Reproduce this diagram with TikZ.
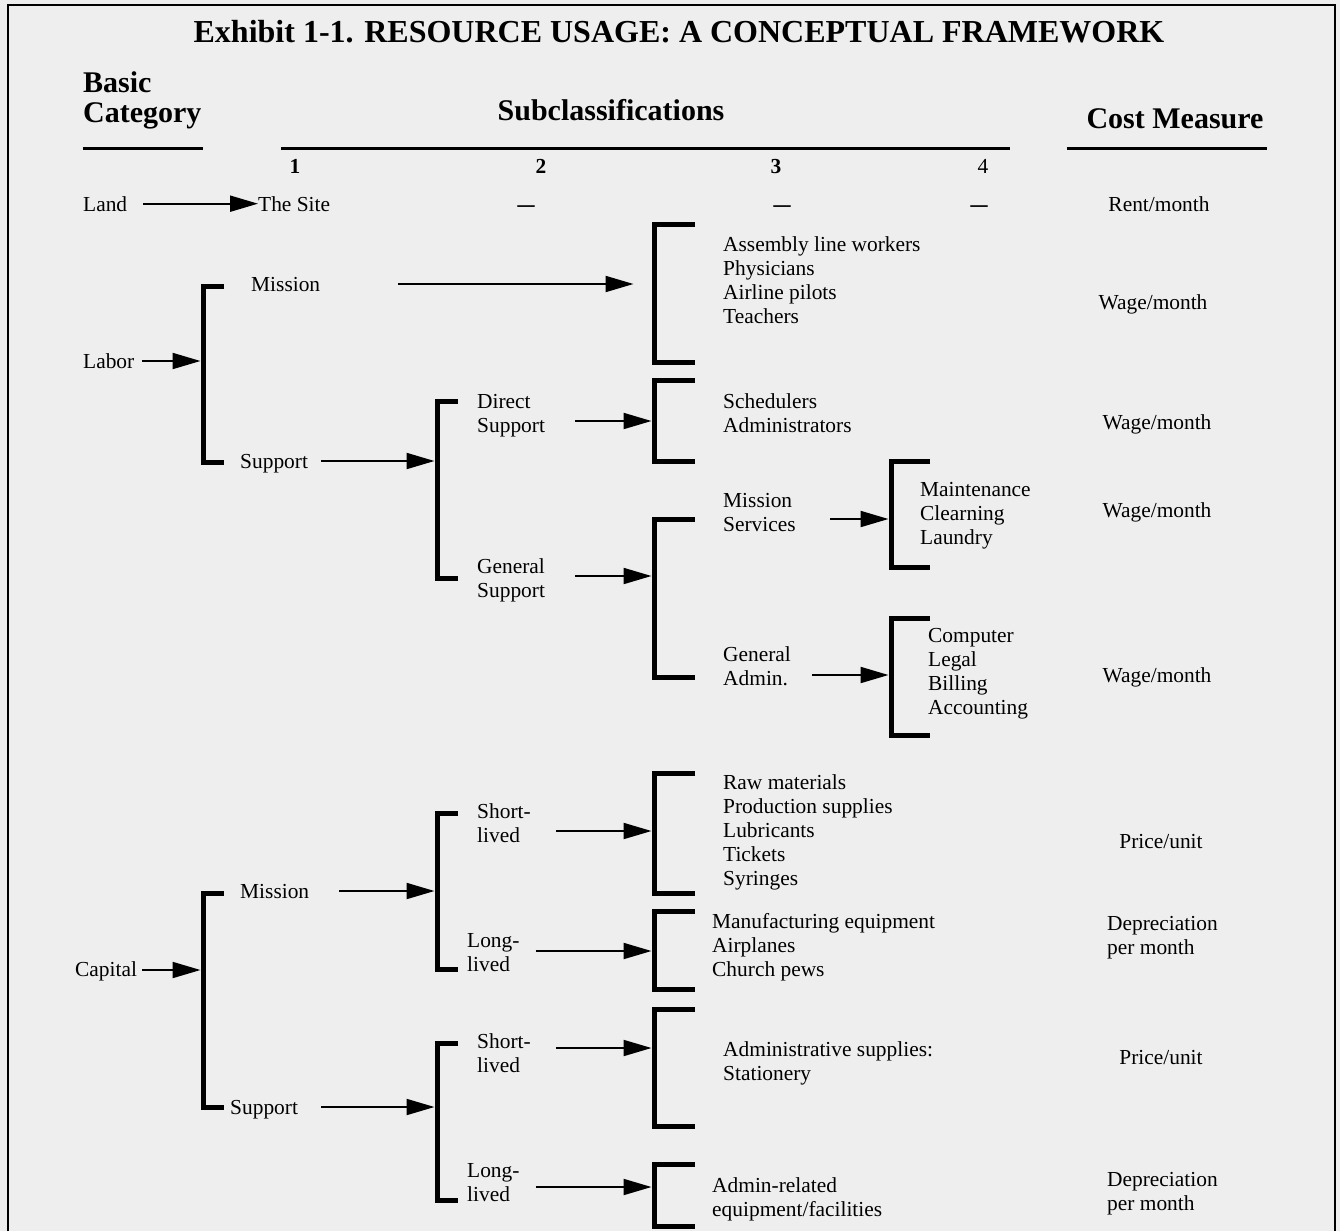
\documentclass[tikz,border=0pt]{standalone}
\usepackage{fontspec}
\setmainfont{Liberation Serif}
\usetikzlibrary{calc,arrows.meta}
\definecolor{paper}{HTML}{EEEEEE}
\newcommand\bodyfont{\fontsize{21.4}{24}\selectfont}
\newcommand\headfont{\fontsize{30}{30}\selectfont\bfseries}

\begin{document}
\begin{tikzpicture}[
    x=1pt,y=-1pt,
    txt/.style={anchor=base west,align=left,inner sep=0pt,font=\bodyfont},
    cost/.style={anchor=base,align=center,inner sep=0pt,font=\bodyfont},
    head/.style={inner sep=0pt,font=\headfont},
    brk/.style={line width=5pt,line join=miter},
    arr/.style={line width=2pt,-{Triangle[length=28pt,width=16pt]}},
    rule/.style={line width=3pt}
    ]

    \useasboundingbox (0,0) rectangle (1340,1231);
    \fill[paper] (0,0) rectangle (1340,1231);
    \draw[line width=2pt] (8,1231) -- (8,5) -- (1335,5) -- (1335,1231);

    % headings (base = last line)
    \node (title) [inner sep=0pt,anchor=base,font=\fontsize{32}{34}\selectfont\bfseries]
      at (679,43) {Exhibit 1-1. RESOURCE USAGE: A CONCEPTUAL FRAMEWORK};
    \node (basic) [head,anchor=base west,align=left] at (83,122) {Basic\\Category};
    \node (subcl) [head,anchor=base] at (611,120) {Subclassifications};
    \node (costm) [head,anchor=base] at (1175,128) {Cost Measure};
    \draw[rule] (83,148) -- (203,148);
    \draw[rule] (281,148) -- (1010,148);
    \draw[rule] (1067,148) -- (1267,148);

    \foreach \n/\x in {1/295,2/541,3/776}
      \node (col\n) [cost] at (\x,173) {\textbf{\n}};
    \node (col4) [cost] at (983,173) {4};

    % land
    \node (land) [txt] at (83,211) {Land};
    \node (site) [txt] at (258,211) {The Site};
    \foreach \x in {526,782,979}
      \node (dash\x) [cost,font=\fontsize{34}{34}\selectfont] at (\x,214) {--};
    \draw[arr] ([xshift=16pt]land.east) -- (site.west);

    % brackets: name/x/top/bottom/tick/entry
    \foreach \nm/\x/\t/\u/\w/\e in {
        bLab/203/286/462/21/361, bLmis/654/224/362/41/284, bLsup/437/401/578/21/461,
        bDS/654/380/461/41/421, bGS/654/519/677/41/576, bMS/891/461/567/39/519,
        bGA/891/618/735/39/675, bCap/203/893/1107/21/970, bCmis/437/813/969/21/891,
        bCms/654/773/893/41/831, bCml/654/911/989/41/951, bCsup/437/1043/1200/21/1107,
        bCss/654/1009/1126/41/1048, bCsl/654/1164/1226/41/1187}
    {
      \draw[brk] (\x+\w,\t) -- (\x,\t) -- (\x,\u) -- (\x+\w,\u);
      \coordinate (\nm) at (\x-2.5,\e);
    }

    % labor
    \node (labor) [txt] at (83,368) {Labor};
    \node (lmis) [txt] at (251,291) {Mission};
    \node (lsup) [txt] at (240,468) {Support};
    \node (lmisj) [txt] at (723,323) {Assembly line workers\\Physicians\\Airline pilots\\Teachers};
    \node (ds) [txt] at (477,432) {Direct\\Support};
    \node (gs) [txt] at (477,597) {General\\Support};
    \node (dsj) [txt] at (723,432) {Schedulers\\Administrators};
    \node (ms) [txt] at (723,531) {Mission\\Services};
    \node (ga) [txt] at (723,685) {General\\Admin.};
    \node (msj) [txt] at (920,544) {Maintenance\\Clearning\\Laundry};
    \node (gaj) [txt] at (928,714) {Computer\\Legal\\Billing\\Accounting};

    \draw[arr] ($(labor.east |- bLab)+(8,0)$) -- (bLab);
    \draw[arr,shorten >=18pt] ($(lmis.east |- bLmis)+(78,0)$) -- (bLmis);
    \draw[arr] ($(lsup.east |- bLsup)+(13,0)$) -- (bLsup);
    \draw[arr] ($(ds.east |- bDS)+(30,0)$) -- (bDS);
    \draw[arr] ($(gs.east |- bGS)+(30,0)$) -- (bGS);
    \draw[arr] ($(ms.east |- bMS)+(34,0)$) -- (bMS);
    \draw[arr] ($(ga.east |- bGA)+(21,0)$) -- (bGA);

    % capital
    \node (capital) [txt] at (75,976) {Capital};
    \node (cmis) [txt] at (240,898) {Mission};
    \node (csup) [txt] at (230,1114) {Support};
    \node (cms) [txt] at (477,842) {Short-\\lived};
    \node (cml) [txt] at (467,971) {Long-\\lived};
    \node (css) [txt] at (477,1072) {Short-\\lived};
    \node (csl) [txt] at (467,1201) {Long-\\lived};
    \node (cmsj) [txt] at (723,885) {Raw materials\\Production supplies\\Lubricants\\Tickets\\Syringes};
    \node (cmlj) [txt] at (712,976) {Manufacturing equipment\\Airplanes\\Church pews};
    \node (cssj) [txt] at (723,1080) {Administrative supplies:\\Stationery};
    \node (cslj) [txt] at (712,1216) {Admin-related\\equipment/facilities};

    \draw[arr] ($(capital.east |- bCap)+(5,0)$) -- (bCap);
    \draw[arr] ($(cmis.east |- bCmis)+(30,0)$) -- (bCmis);
    \draw[arr] ($(csup.east |- bCsup)+(23,0)$) -- (bCsup);
    \draw[arr] ($(cms.east |- bCms)+(25,0)$) -- (bCms);
    \draw[arr] ($(cml.east |- bCml)+(16,0)$) -- (bCml);
    \draw[arr] ($(css.east |- bCss)+(25,0)$) -- (bCss);
    \draw[arr] ($(csl.east |- bCsl)+(16,0)$) -- (bCsl);

    % cost measures
    \node (rent) [cost] at (1159,211) {Rent/month};
    \node (wage1) [cost] at (1153,309) {Wage/month};
    \node (wage2) [cost] at (1157,429) {Wage/month};
    \node (wage3) [cost] at (1157,517) {Wage/month};
    \node (wage4) [cost] at (1157,682) {Wage/month};
    \node (price1) [cost] at (1161,848) {Price/unit};
    \node (depr1) [txt] at (1107,954) {Depreciation\\per month};
    \node (price2) [cost] at (1161,1064) {Price/unit};
    \node (depr2) [txt] at (1107,1210) {Depreciation\\per month};

  \end{tikzpicture}
\end{document}
